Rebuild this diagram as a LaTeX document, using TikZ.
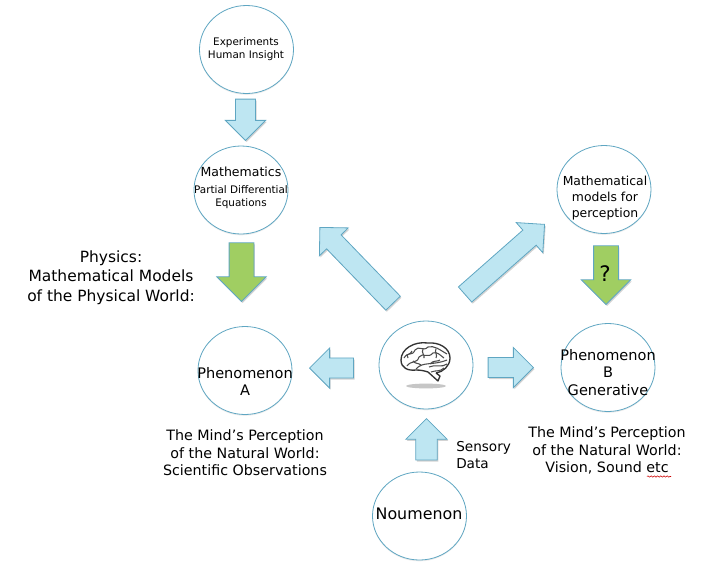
\documentclass[tikz,border=0pt]{standalone}
\usepackage{fontspec}
\setmainfont{DejaVu Sans}
\usepackage{xcolor}
\usetikzlibrary{arrows.meta,positioning,shapes.geometric,shapes.arrows,shadows,decorations.pathmorphing}

\definecolor{bubbleline}{HTML}{5FA6C2}
\definecolor{arrowblue}{HTML}{BEE6F2}
\definecolor{arrowgreen}{HTML}{A0CE62}

\tikzset{
  bubble/.style={ellipse, draw=bubbleline, fill=white, line width=0.6pt, inner sep=0pt,
    minimum width=70.5pt, minimum height=66pt,
    drop shadow={opacity=0.15, shadow xshift=0pt, shadow yshift=-1pt}},
  blockarrow/.style={single arrow, draw=bubbleline, line width=0.6pt, inner sep=0pt,
    single arrow head extend=7.5pt, text width=0pt, text height=14.5pt, text depth=0pt,
    minimum width=29.5pt, minimum height=31pt,
    drop shadow={opacity=0.35, shadow xshift=0.8pt, shadow yshift=-1.2pt}},
  bluearrow/.style={blockarrow, fill=arrowblue},
  greenarrow/.style={blockarrow, fill=arrowgreen, single arrow head extend=9.2pt,
    text height=18pt, minimum width=37pt, minimum height=44pt},
  bigtext/.style={font=\fontsize{10.7}{13.2}\selectfont, align=center, inner sep=0pt},
  smalltext/.style={font=\fontsize{7.8}{9.8}\selectfont, align=center, inner sep=0pt},
}

\begin{document}
\begin{tikzpicture}[x=0.75pt, y=-0.75pt]
  \useasboundingbox (0,0) rectangle (715,576);

  % Circles
  \node[bubble] (experiments) at (246.5,49.5) {};
  \node[bubble] (mathematics) at (241,190) {};
  \node[bubble] (models)      at (604,189.5) {};
  \node[bubble] (phenA)       at (245,370.5) {};
  \node[bubble] (brain)       at (426,365) {};
  \node[bubble] (phenB)       at (608,367.5) {};
  \node[bubble] (noumenon)    at (419.5,516) {};

  % Circle texts
  \node[smalltext] (experimentstext) at (246,49.5) {Experiments\\Human Insight};
  \node[bigtext, font=\fontsize{9.4}{12}\selectfont] (mathematicstext) at (241,172) {Mathematics};
  \node[smalltext] (pdetext) at (241,197) {Partial Differential\\Equations};
  \node[bigtext, font=\fontsize{9.3}{12}\selectfont] (modelstext) at (605,198) {Mathematical\\models for\\perception};
  \node[bigtext, font=\fontsize{10.9}{13.2}\selectfont] (phenAtext) at (245,381.5) {Phenomenon\\A};
  \node[bigtext, font=\fontsize{10.9}{13.2}\selectfont] (phenBtext) at (608,372.5) {Phenomenon\\B\\Generative};
  \node[bigtext, font=\fontsize{11.9}{13.2}\selectfont] (noumenontext) at (419,514) {Noumenon};

  % Arrows
  \node[bluearrow, rotate=-90, anchor=tip] (expmath) at (245.5,141) {};
  \node[greenarrow, rotate=-90, anchor=tip] (mathphen) at (241.5,302) {};
  \node[greenarrow, rotate=-90, anchor=tip] (modelphen) at (606,305) {};
  \node[bluearrow, rotate=41.4, minimum height=79.5pt, anchor=tip] (brainmodels) at (545,224) {};
  \node[bluearrow, rotate=134, minimum height=79pt, anchor=tip] (brainmath) at (319.5,227) {};
  \node[bluearrow, rotate=180, minimum height=33pt, anchor=tip] (brainphenA) at (309,368) {};
  \node[bluearrow, minimum height=34pt, anchor=tip] (brainphenB) at (534,367.5) {};
  \node[bluearrow, rotate=90, text height=15.5pt, minimum height=31pt, anchor=tip] (noumenonbrain) at (426.5,418) {};
  \node[font=\fontsize{16}{18}\selectfont, inner sep=0pt] (question) at (605,274) {?};

  % Brain
  \fill[gray!45] (426,386) ellipse (20 and 2.4);
  \draw[black!80, line width=1pt, line join=round]
    (436,373) .. controls (443,372) and (450,366) .. (450,358)
    .. controls (450,348) and (439,342) .. (428,343)
    .. controls (414,341) and (401,349) .. (401,360)
    .. controls (401,368) and (408,371) .. (416,370)
    .. controls (421,370) and (425,371) .. (428,372)
    -- (438,381) -- (440,376) -- (436,373);
  \draw[black!70, line width=0.8pt, line join=round]
    (404,358) .. controls (408,351) and (412,357) .. (415,350)
    .. controls (419,345) and (423,352) .. (428,347)
    .. controls (434,345) and (440,350) .. (447,354)
    (407,366) .. controls (411,360) and (417,364) .. (419,357)
    .. controls (423,352) and (428,359) .. (433,353)
    .. controls (437,351) and (441,356) .. (444,358)
    (412,351) .. controls (411,355) and (405,353) .. (408,358)
    (423,349) .. controls (421,353) and (425,355) .. (424,358)
    (436,349) .. controls (434,352) and (438,355) .. (436,358)
    (416,369) .. controls (423,361) and (432,366) .. (447,360)
    (413,361) .. controls (415,364) and (419,363) .. (421,365)
    (429,367) .. controls (435,364) and (442,368) .. (447,364)
    (431,372) .. controls (436,370) and (440,372) .. (444,368)
    (430,364) .. controls (433,360) and (437,362) .. (440,360);

  % Captions
  \node[bigtext, font=\fontsize{11.6}{14.6}\selectfont] (physicstext) at (111,277.5) {Physics:\\Mathematical Models\\of the Physical World:};
  \node[bigtext] (captionA) at (245,453) {The Mind’s Perception\\of the Natural World:\\Scientific Observations};
  \node[bigtext] (captionB) at (607,450.5) {The Mind’s Perception\\of the Natural World:\\Vision, Sound etc};
  \node[bigtext, font=\fontsize{10.2}{12.8}\selectfont, align=left, anchor=west] (sensorytext) at (456,455.5) {Sensory\\Data};

  % Spelling mark
  \coordinate (squiggleL) at (647,476.5);
  \coordinate (squiggleR) at (671,476.5);
  \draw[red!80!black, line width=0.4pt, decorate, decoration={snake, amplitude=0.5pt, segment length=2.4pt}]
    (squiggleL) -- (squiggleR);

\end{tikzpicture}
\end{document}
